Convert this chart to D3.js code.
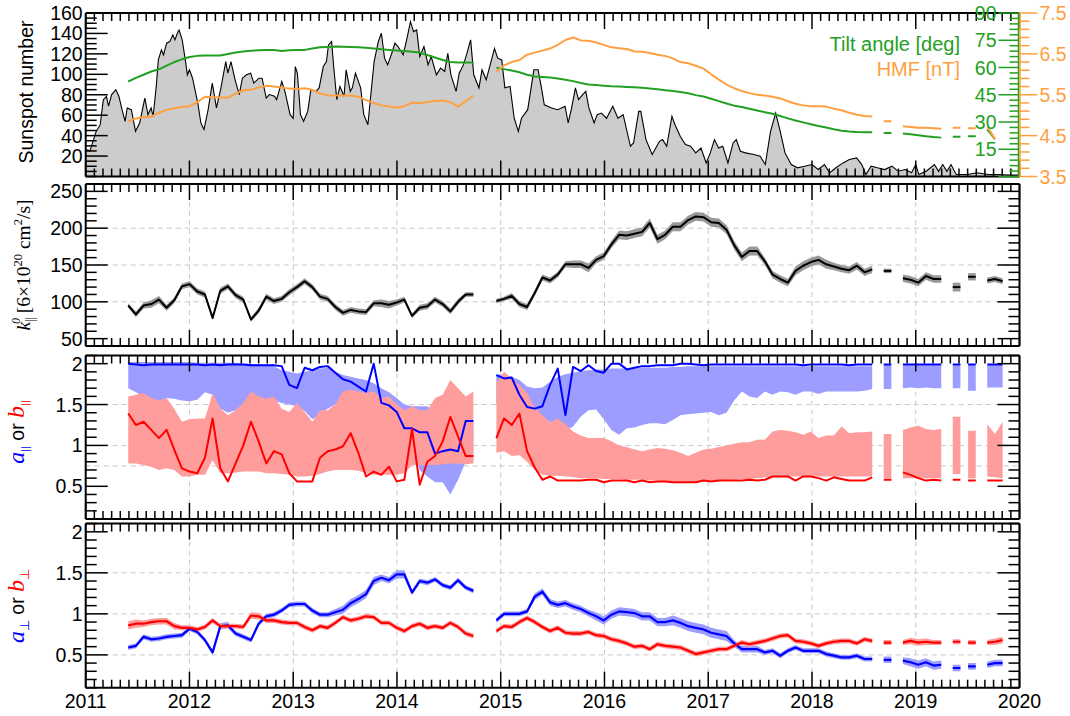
<!DOCTYPE html>
<html lang="en">
<head>
<meta charset="UTF-8">
<title>Sunspots, tilt angle, HMF and diffusion parameters</title>
<script src="https://cdn.jsdelivr.net/npm/d3@7"></script>
<style>
  html, body { margin: 0; padding: 0; background: #fff; }
  svg { display: block; font-family: "Liberation Sans", Arial, sans-serif; }
</style>
</head>
<body>
<svg id="chart" width="1070" height="716"></svg>
<script>
// ---------------- data ----------------

// smoothed sunspot number: [year, value]
var sunspot = [[2011.00,25],[2011.02,26],[2011.04,24.7],[2011.10,43.9],[2011.14,50.7],[2011.17,75.2],[2011.20,78.5],[2011.22,68.8],[2011.25,80.2],[2011.29,85],[2011.32,78.5],[2011.35,65.4],[2011.38,54],[2011.40,67.1],[2011.44,65.4],[2011.48,44.2],[2011.52,52.4],[2011.57,76.8],[2011.60,60.5],[2011.63,67.1],[2011.65,58.9],[2011.68,88.1],[2011.70,114.1],[2011.73,124],[2011.75,119],[2011.78,130.5],[2011.81,132],[2011.84,138.6],[2011.86,133.7],[2011.89,141.8],[2011.90,143.4],[2011.93,133.7],[2011.96,114.1],[2011.98,99.5],[2012.00,104.4],[2012.03,96.2],[2012.08,71.9],[2012.11,52.4],[2012.14,45.9],[2012.18,65.4],[2012.22,91.4],[2012.26,67.1],[2012.30,85],[2012.35,112.5],[2012.37,101.1],[2012.40,112.5],[2012.44,94.6],[2012.48,80.2],[2012.51,96.2],[2012.55,99.5],[2012.59,101.1],[2012.62,91.4],[2012.67,96.2],[2012.70,96.2],[2012.74,76.8],[2012.77,80.2],[2012.82,78.5],[2012.84,75.2],[2012.89,93],[2012.92,83.3],[2012.97,60.5],[2013.00,57],[2013.02,107.6],[2013.04,101.1],[2013.07,60.5],[2013.10,54],[2013.14,63.7],[2013.17,85],[2013.22,83.3],[2013.25,86.7],[2013.29,107.6],[2013.32,112.5],[2013.34,128.8],[2013.37,132],[2013.39,107.6],[2013.42,75.2],[2013.45,88.1],[2013.49,78.5],[2013.51,104.4],[2013.55,83.3],[2013.57,86.7],[2013.60,101.1],[2013.65,86.7],[2013.68,60.5],[2013.72,50.7],[2013.75,81.9],[2013.78,112.5],[2013.82,132],[2013.85,140.2],[2013.88,115.8],[2013.91,109.2],[2013.95,120.6],[2013.98,130.5],[2014.01,127.2],[2014.06,119],[2014.10,136.9],[2014.13,151.5],[2014.16,141.8],[2014.19,143.4],[2014.22,117.4],[2014.26,127.2],[2014.30,109.2],[2014.33,117.4],[2014.38,99.5],[2014.42,106],[2014.46,102.8],[2014.49,120.6],[2014.52,99.5],[2014.57,83.3],[2014.60,101.1],[2014.64,109.2],[2014.67,119],[2014.71,133.7],[2014.74,99.5],[2014.79,86.7],[2014.82,104.4],[2014.86,94.6],[2014.89,106],[2014.94,125.4],[2014.97,115.8],[2015.01,114.1],[2015.04,86.7],[2015.09,88.1],[2015.13,57],[2015.17,44.2],[2015.20,57],[2015.26,65.4],[2015.32,104.4],[2015.36,104.4],[2015.39,88.1],[2015.42,70.2],[2015.49,67.1],[2015.55,65.4],[2015.62,68.8],[2015.65,52.4],[2015.68,65.4],[2015.72,86.7],[2015.75,75.2],[2015.79,80.2],[2015.82,83.3],[2015.85,67.1],[2015.90,52.4],[2015.93,60.5],[2015.97,62.1],[2016.02,57],[2016.08,68.8],[2016.13,57],[2016.18,60.5],[2016.25,29.6],[2016.28,32.8],[2016.33,63.7],[2016.35,63.7],[2016.40,36.1],[2016.46,21.5],[2016.53,34.4],[2016.56,36.1],[2016.60,29.6],[2016.65,58.9],[2016.68,50.7],[2016.73,39.4],[2016.78,31.2],[2016.83,29.6],[2016.88,23.1],[2016.93,27.9],[2016.98,13.3],[2017.02,23.1],[2017.06,36.1],[2017.10,27.9],[2017.14,29.6],[2017.19,13.3],[2017.24,32.8],[2017.27,36.1],[2017.31,24.7],[2017.36,23.1],[2017.44,21.5],[2017.50,19.8],[2017.55,11.7],[2017.60,43.9],[2017.65,62.1],[2017.69,45.9],[2017.74,23.1],[2017.80,11.7],[2017.86,8.5],[2017.93,10.1],[2018.00,11.7],[2018.06,6.8],[2018.12,11.7],[2018.17,3.6],[2018.23,8.5],[2018.30,13.3],[2018.36,16.6],[2018.43,18.2],[2018.48,11.7],[2018.52,1.9],[2018.57,10.1],[2018.63,8.5],[2018.70,6.8],[2018.77,10.1],[2018.83,5.2],[2018.90,6.8],[2018.96,3.6],[2019.00,11.7],[2019.03,1.9],[2019.10,5.2],[2019.18,11.7],[2019.22,5],[2019.26,11.7],[2019.30,5],[2019.34,11.7],[2019.39,1.9],[2019.50,1.9],[2019.59,3.6],[2019.70,1.9],[2019.79,1.9],[2019.90,1.3],[2020.00,1.3]];

// the other quantities are given per Bartels rotation (27 days), null = no data
var rotStart = 2011.41;
var rotStep = 27 / 365.25;

var tilt = [52.3,54.3,56,57.8,59,61,63,64.5,65.8,66.4,66.6,66.6,66.6,67.4,68.2,68.8,69.2,69.5,69.7,69.6,69.1,69.5,69.7,69.7,70.5,71.1,71.3,71.5,71.4,71.3,71.2,70.9,70.5,70.0,69.7,69.4,69.1,68.7,68.2,66.9,65.5,64.1,63.0,62.7,62.7,62.7,
  null,null,
  59.9,59.1,58.3,57.4,56,55,54.8,54.5,53.9,53.3,52.5,51.5,50.6,50.3,50.0,49.7,49.5,49.3,49.1,48.9,48.5,48.0,47.5,47.0,46.5,45.8,44.8,44.0,42.8,41.5,40.2,39.0,38.2,37.3,36.3,35.4,34.5,33.3,32.0,30.8,29.8,28.8,27.8,27.0,26.0,25.2,24.8,24.5,24.3,24.3,
  null,24.0,null,23.7,23.2,22.7,22.2,21.7,21.4,null,21.9,null,22.1,null,26,20.5,null];

var hmf = [4.85,4.92,4.95,4.97,5.06,5.13,5.17,5.20,5.22,5.32,5.45,5.44,5.43,5.43,5.52,5.61,5.62,5.68,5.72,5.70,5.68,5.65,5.64,5.66,5.62,5.53,5.49,5.48,5.48,5.48,5.45,5.37,5.30,5.24,5.21,5.19,5.22,5.31,5.29,5.32,5.35,5.36,5.32,5.21,5.34,5.48,
  null,null,
  6.06,6.22,6.30,6.35,6.48,6.53,6.58,6.63,6.72,6.84,6.90,6.83,6.82,6.78,6.72,6.66,6.64,6.62,6.56,6.55,6.52,6.48,6.45,6.39,6.30,6.27,6.21,6.14,6.00,5.87,5.75,5.66,5.59,5.54,5.50,5.48,5.45,5.41,5.34,5.28,5.24,5.22,5.22,5.21,5.16,5.12,5.06,5.01,4.98,4.97,
  null,4.85,null,4.73,4.71,4.69,4.69,4.68,4.67,null,4.69,null,4.68,null,4.72,4.42,null];

var kPar = [95,83,95,97,103,92,102,121,124,114,110,78,115,121,109,103,76,88,107,101,104,113,120,128,120,107,104,93,85,89,87,86,98,98,96,99,103,81,92,94,103,97,87,100,110,110,
  null,null,
  101,104,108,97,93,112,133,129,137,151,151,151,146,157,162,178,191,190,192.5,195,207,185,191,202,202,211,216,215,208,207,198,177,161,169,169,155,137,131,126,142,149,154,157,151,148,145,143,149,140,144,
  null,142,null,132,130,126,135,131,131,null,120,null,134,null,129,131,128];
var kParErr = [3,4,4,5,5,4,4,4,4,4,4,3,4,4,4,4,3,4,4,4,4,4,4,4,4,4,4,4,4,4,4,4,4,5,5,4,4,3,4,4,4,4,4,4,3,3,
  null,null,
  3,3,4,4,4,4,4,4,4,4,5,5,6,5,5,5,6,6,6,6,6,6,6,6,6,6,6,6,6,6,6,6,6,6,6,5,5,5,5,6,6,6,6,6,5,5,5,5,5,5,
  null,3,null,5,5,5,5,5,5,null,6,null,5,null,4,4,4];

var aPar = [2.0,1.99,1.98,1.99,1.99,1.99,1.99,1.99,1.99,1.99,1.98,1.99,1.98,1.99,1.99,1.99,1.98,1.98,1.98,1.98,1.97,1.74,1.70,1.95,1.92,1.96,1.97,1.89,1.81,1.78,1.72,1.66,2.0,1.52,1.49,1.41,1.21,1.21,1.16,1.16,0.9,0.93,0.95,0.93,1.3,1.3,
  null,null,
  1.86,1.82,1.83,1.62,1.47,1.45,1.48,1.74,1.94,1.37,1.96,1.91,1.98,1.91,1.89,2.0,2.0,1.93,1.95,1.97,1.97,1.98,1.98,1.98,2.0,2.0,1.99,1.98,1.99,1.99,1.99,1.99,1.99,1.99,1.99,1.99,1.99,1.99,1.99,1.99,1.98,1.99,1.99,1.99,1.99,1.99,1.98,1.99,1.99,1.99,
  null,1.99,null,1.99,1.99,1.99,1.99,1.99,1.99,null,1.99,null,1.99,null,1.99,1.99,1.99];
var aParLo = [1.70,1.65,1.60,1.55,1.52,1.58,1.57,1.55,1.54,1.56,1.65,1.62,1.45,1.40,1.43,1.50,1.55,1.55,1.54,1.55,1.52,1.50,1.48,1.42,1.32,1.38,1.45,1.50,1.55,1.55,1.50,1.45,1.40,1.38,1.30,1.22,1.10,1.00,0.70,0.62,0.55,0.55,0.40,0.58,0.80,0.80,
  null,null,
  1.50,1.50,1.45,1.40,1.35,1.30,1.30,1.29,1.20,1.18,1.23,1.35,1.43,1.44,1.32,1.19,1.13,1.21,1.22,1.25,1.27,1.27,1.26,1.31,1.37,1.38,1.39,1.40,1.41,1.37,1.40,1.55,1.66,1.60,1.58,1.66,1.62,1.66,1.65,1.62,1.66,1.66,1.63,1.66,1.66,1.66,1.66,1.66,1.67,1.69,
  null,1.69,null,1.70,1.71,1.70,1.71,1.70,1.70,null,1.70,null,1.67,null,1.71,1.71,1.71];
var aParHi = [2.02,2.02,2.02,2.02,2.02,2.02,2.02,2.02,2.02,2.01,2.01,2.01,2.01,2.01,2.01,2.0,2.0,1.99,1.98,1.97,1.92,1.90,1.88,1.90,1.92,1.94,1.95,1.90,1.86,1.84,1.82,1.80,1.76,1.70,1.65,1.58,1.50,1.48,1.48,1.48,1.40,1.35,1.25,1.10,1.25,1.30,
  null,null,
  1.87,1.86,1.84,1.80,1.72,1.70,1.71,1.78,1.84,1.87,1.89,1.91,1.92,1.93,1.93,1.94,1.94,1.94,1.94,1.95,1.95,1.95,1.95,1.96,1.96,1.97,1.97,1.97,1.97,1.97,1.97,1.97,1.97,1.97,1.97,1.97,1.97,1.97,1.97,1.97,1.97,1.97,1.97,1.97,1.97,1.97,1.97,1.97,1.97,1.97,
  null,1.98,null,1.98,1.98,1.98,1.98,1.98,1.98,null,1.98,null,1.98,null,1.98,1.98,1.98];

var bPar = [1.39,1.25,1.29,1.19,1.09,1.19,0.95,0.72,0.68,0.66,0.85,1.33,0.72,0.56,0.78,1.0,1.29,1.05,0.78,0.93,0.89,0.66,0.56,0.56,0.56,0.85,0.93,0.95,0.99,1.15,0.91,0.62,0.68,0.64,0.74,0.56,0.58,1.2,0.52,0.8,0.87,1.05,1.35,1.11,0.87,0.87,
  null,null,
  1.09,1.33,1.25,1.39,0.93,0.73,0.58,0.62,0.57,0.57,0.57,0.57,0.58,0.58,0.55,0.57,0.57,0.57,0.55,0.57,0.55,0.56,0.56,0.55,0.55,0.55,0.55,0.57,0.56,0.57,0.57,0.57,0.57,0.58,0.57,0.58,0.62,0.62,0.62,0.57,0.62,0.62,0.60,0.57,0.61,0.59,0.57,0.57,0.57,0.61,
  null,0.58,null,0.67,0.64,0.60,0.57,0.58,0.57,null,0.58,null,0.57,null,0.57,0.57,0.57];
var bParLo = [0.78,0.78,0.76,0.74,0.70,0.72,0.70,0.62,0.62,0.64,0.64,0.82,0.66,0.66,0.67,0.68,0.68,0.68,0.66,0.66,0.65,0.64,0.62,0.62,0.63,0.65,0.68,0.70,0.70,0.70,0.69,0.66,0.64,0.64,0.64,0.64,0.66,0.76,0.76,0.76,0.76,0.77,0.78,0.78,0.77,0.78,
  null,null,
  0.91,0.93,0.87,0.88,0.80,0.70,0.64,0.63,0.63,0.62,0.61,0.60,0.60,0.60,0.59,0.59,0.59,0.58,0.58,0.58,0.57,0.57,0.56,0.56,0.56,0.56,0.56,0.56,0.57,0.57,0.58,0.58,0.59,0.59,0.60,0.61,0.62,0.62,0.62,0.62,0.62,0.62,0.62,0.62,0.62,0.62,0.62,0.62,0.62,0.62,
  null,0.60,null,0.60,0.60,0.60,0.60,0.60,0.60,null,0.65,null,0.60,null,0.62,0.61,0.60];
var bParHi = [1.60,1.62,1.64,1.58,1.55,1.58,1.45,1.29,1.32,1.33,1.33,1.64,1.45,1.37,1.43,1.52,1.66,1.60,1.57,1.60,1.45,1.41,1.52,1.41,1.29,1.43,1.43,1.50,1.66,1.68,1.66,1.64,1.66,1.58,1.60,1.50,1.43,1.48,1.43,1.43,1.58,1.62,1.80,1.70,1.60,1.66,
  null,null,
  1.76,1.90,1.82,1.74,1.64,1.46,1.37,1.28,1.33,1.26,1.17,1.12,1.09,1.09,1.09,1.05,1.0,0.98,0.95,0.93,0.95,0.97,0.96,0.94,0.91,0.87,0.91,0.95,0.96,0.98,1.0,1.02,1.04,1.04,1.07,1.07,1.17,1.19,1.18,1.16,1.13,1.17,1.09,1.12,1.12,1.23,1.15,1.16,1.16,1.17,
  null,1.14,null,1.19,1.22,1.24,1.20,1.19,1.20,null,1.35,null,1.18,null,1.26,1.14,1.29];

var aPerp = [0.59,0.61,0.72,0.69,0.70,0.72,0.73,0.74,0.82,0.78,0.68,0.53,0.85,0.86,0.76,0.72,0.68,0.88,0.97,0.99,1.04,1.11,1.12,1.12,1.04,0.99,0.99,1.02,1.05,1.13,1.18,1.24,1.40,1.44,1.41,1.48,1.48,1.26,1.40,1.38,1.42,1.35,1.32,1.41,1.32,1.28,
  null,null,
  0.92,1.0,1.0,1.0,1.03,1.21,1.27,1.14,1.11,1.13,1.09,1.06,1.01,0.97,0.92,0.99,1.03,1.02,1.01,0.97,0.97,0.90,0.90,0.92,0.89,0.85,0.83,0.81,0.77,0.75,0.73,0.64,0.57,0.57,0.57,0.53,0.55,0.49,0.55,0.59,0.55,0.55,0.55,0.51,0.49,0.47,0.47,0.49,0.45,0.45,
  null,0.44,null,0.43,0.41,0.38,0.41,0.37,0.38,null,0.34,null,0.36,null,0.38,0.40,0.40];
var aPerpErr = [0.03,0.03,0.03,0.03,0.03,0.03,0.03,0.03,0.03,0.03,0.03,0.03,0.04,0.04,0.03,0.03,0.03,0.03,0.03,0.03,0.03,0.03,0.03,0.03,0.03,0.03,0.03,0.04,0.05,0.05,0.05,0.05,0.05,0.04,0.04,0.05,0.05,0.03,0.03,0.03,0.03,0.03,0.03,0.03,0.03,0.03,
  null,null,
  0.03,0.03,0.03,0.03,0.03,0.04,0.04,0.04,0.04,0.04,0.04,0.04,0.04,0.05,0.05,0.05,0.05,0.05,0.05,0.05,0.05,0.05,0.05,0.06,0.06,0.06,0.06,0.06,0.06,0.06,0.06,0.04,0.04,0.04,0.04,0.03,0.03,0.03,0.03,0.03,0.03,0.03,0.03,0.03,0.03,0.03,0.03,0.03,0.03,0.03,
  null,0.04,null,0.04,0.05,0.05,0.05,0.05,0.05,null,0.04,null,0.04,null,0.04,0.04,0.04];

var bPerp = [0.86,0.88,0.88,0.90,0.91,0.91,0.85,0.83,0.83,0.81,0.84,0.92,0.85,0.85,0.85,0.84,0.98,0.97,0.92,0.92,0.90,0.89,0.89,0.84,0.80,0.85,0.83,0.89,0.96,0.92,0.94,0.97,0.96,0.89,0.89,0.83,0.79,0.85,0.88,0.83,0.85,0.83,0.89,0.84,0.76,0.73,
  null,null,
  0.79,0.85,0.84,0.90,0.95,0.90,0.84,0.79,0.83,0.77,0.76,0.76,0.78,0.74,0.73,0.69,0.67,0.64,0.60,0.61,0.57,0.63,0.61,0.60,0.59,0.55,0.51,0.53,0.55,0.57,0.57,0.61,0.65,0.63,0.65,0.67,0.70,0.73,0.74,0.67,0.66,0.64,0.61,0.64,0.66,0.67,0.67,0.64,0.69,0.67,
  null,0.65,null,0.65,0.67,0.65,0.66,0.65,0.65,null,0.66,null,0.65,null,0.65,0.66,0.68];
var bPerpErr = [0.05,0.05,0.04,0.04,0.04,0.04,0.04,0.03,0.03,0.03,0.03,0.03,0.03,0.03,0.03,0.03,0.04,0.04,0.03,0.03,0.03,0.03,0.03,0.03,0.03,0.03,0.03,0.03,0.03,0.03,0.03,0.03,0.03,0.03,0.03,0.03,0.03,0.03,0.03,0.03,0.03,0.03,0.03,0.03,0.03,0.03,
  null,null,
  0.03,0.03,0.03,0.03,0.03,0.03,0.03,0.03,0.03,0.03,0.03,0.03,0.03,0.03,0.03,0.03,0.03,0.03,0.03,0.03,0.03,0.03,0.03,0.03,0.03,0.03,0.03,0.03,0.03,0.03,0.03,0.03,0.03,0.03,0.03,0.03,0.03,0.03,0.03,0.03,0.03,0.03,0.03,0.03,0.03,0.03,0.03,0.03,0.03,0.03,
  null,0.03,null,0.03,0.04,0.04,0.04,0.03,0.03,null,0.03,null,0.03,null,0.03,0.04,0.04];

// axis ticks
var years = d3.range(2011, 2021);
var sunTicks = [20, 40, 60, 80, 100, 120, 140, 160];
var tiltTicks = [15, 30, 45, 60, 75, 90];
var hmfTicks = [3.5, 4.5, 5.5, 6.5, 7.5];
var kTicks = [50, 100, 150, 200, 250];
var abTicks = [0.5, 1, 1.5, 2];
var kGrid = [100, 150, 200];
var parGrid = [0.75, 1, 1.5];
var perpGrid = [0.5, 1, 1.5];

// ---------------- layout ----------------
var SERIF = '"Liberation Serif", "DejaVu Serif", serif';
var GREEN = "#22a022", ORANGE = "#ffa040";
var BLUE = "#0000ff", RED = "#ff0000", BLUE_BAND = "#9d9dff", RED_BAND = "#ff9d9d";
var TICK_FONT = 19.5;

var svg = d3.select("#chart");
var x = d3.scaleLinear().domain([2011, 2020]).range([85.7, 1019.5]);
var L = x.range()[0], R = x.range()[1];

var boxes = [[13, 176.5], [184, 346], [355.5, 519], [523.6, 687.7]];

var ySun = d3.scaleLinear().domain([0, 160]).range([boxes[0][1], boxes[0][0]]);
var yTilt = d3.scaleLinear().domain([0, 90]).range([boxes[0][1], boxes[0][0]]);
var yHmf = d3.scaleLinear().domain([3.5, 7.5]).range([boxes[0][1], boxes[0][0]]);
var yK = d3.scaleLinear().domain([40, 260]).range([boxes[1][1], boxes[1][0]]);
var yPar = d3.scaleLinear().domain([0.1, 2.1]).range([boxes[2][1], boxes[2][0]]);
var yPerp = d3.scaleLinear().domain([0.1, 2.1]).range([boxes[3][1], boxes[3][0]]);

// clip paths
var defs = svg.append("defs");
boxes.forEach(function(b, k) {
  defs.append("clipPath").attr("id", "clip" + k)
    .append("rect").attr("x", L).attr("y", b[0]).attr("width", R - L).attr("height", b[1] - b[0]);
});

function rotT(i) { return rotStart + i * rotStep; }

// consecutive non-null stretches; a lone value is drawn across its rotation
function runs(vals) {
  var out = [], cur = [];
  vals.forEach(function(v, i) {
    if (v == null) { if (cur.length) out.push(cur); cur = []; }
    else cur.push(i);
  });
  if (cur.length) out.push(cur);
  return out.map(function(run) {
    if (run.length === 1) {
      var i = run[0];
      return [{ t: rotT(i) - rotStep / 2, i: i }, { t: rotT(i) + rotStep / 2, i: i }];
    }
    return run.map(function(i) { return { t: rotT(i), i: i }; });
  });
}

function drawLine(g, y, vals, color, width) {
  var line = d3.line().x(function(d) { return x(d.t); }).y(function(d) { return y(vals[d.i]); });
  runs(vals).forEach(function(run) {
    g.append("path").attr("d", line(run)).attr("fill", "none")
      .attr("stroke", color).attr("stroke-width", width).attr("stroke-linejoin", "round");
  });
}

function drawBand(g, y, mid, lo, hi, color) {
  var area = d3.area().x(function(d) { return x(d.t); })
    .y0(function(d) { return y(lo(d.i)); })
    .y1(function(d) { return y(hi(d.i)); });
  runs(mid).forEach(function(run) {
    g.append("path").attr("d", area(run)).attr("fill", color).attr("stroke", "none");
  });
}

function grid(g, b, y, levels) {
  var gg = g.append("g").attr("stroke", "#c8c8c8").attr("stroke-width", 1).attr("stroke-dasharray", "5,4");
  years.slice(1, -1).forEach(function(yr) {
    gg.append("line").attr("x1", x(yr)).attr("x2", x(yr)).attr("y1", b[0]).attr("y2", b[1]);
  });
  levels.forEach(function(v) {
    gg.append("line").attr("x1", L).attr("x2", R).attr("y1", y(v)).attr("y2", y(v));
  });
}

function frame(b, y, majors, minorStep, rightTicks) {
  var g = svg.append("g").attr("stroke", "#000").attr("stroke-width", 1.5);
  // x ticks, top and bottom, pointing in
  for (var m = 0; m <= 108; m++) {
    var t = 2011 + m / 12, major = (m % 12 === 0), len = major ? 16 : 8;
    g.append("line").attr("x1", x(t)).attr("x2", x(t)).attr("y1", b[0]).attr("y2", b[0] + len);
    g.append("line").attr("x1", x(t)).attr("x2", x(t)).attr("y1", b[1]).attr("y2", b[1] - len);
  }
  // y ticks
  var d = y.domain();
  var minors = d3.range(Math.ceil(d[0] / minorStep - 1e-6), Math.floor(d[1] / minorStep + 1e-6) + 1)
    .map(function(k) { return +(k * minorStep).toFixed(4); });
  minors.forEach(function(v) {
    var major = majors.some(function(mv) { return Math.abs(mv - v) < 1e-6; });
    var len = major ? 22 : 11;
    g.append("line").attr("x1", L).attr("x2", L + len).attr("y1", y(v)).attr("y2", y(v));
    if (rightTicks) g.append("line").attr("x1", R).attr("x2", R - len).attr("y1", y(v)).attr("y2", y(v));
  });
  // labels
  svg.append("g").selectAll("text").data(majors).join("text")
    .attr("x", L - 3).attr("y", function(v) { return y(v); }).attr("dy", "0.36em")
    .attr("text-anchor", "end").attr("font-size", TICK_FONT).attr("fill", "#000")
    .text(function(v) { return String(v); });
  // spines
  var s = svg.append("g").attr("stroke", "#000").attr("stroke-width", 2).attr("fill", "none");
  s.append("line").attr("x1", L).attr("x2", R).attr("y1", b[0]).attr("y2", b[0]);
  s.append("line").attr("x1", L).attr("x2", R).attr("y1", b[1]).attr("y2", b[1]);
  s.append("line").attr("x1", L).attr("x2", L).attr("y1", b[0]).attr("y2", b[1]);
  if (rightTicks) s.append("line").attr("x1", R).attr("x2", R).attr("y1", b[0]).attr("y2", b[1]);
}

// ---------------- panel 1: sunspots, tilt, HMF ----------------
var g1 = svg.append("g").attr("clip-path", "url(#clip0)");
g1.append("path").datum(sunspot)
  .attr("d", d3.area().x(function(d) { return x(d[0]); }).y0(ySun(0)).y1(function(d) { return ySun(d[1]); }))
  .attr("fill", "#cccccc");
g1.append("path").datum(sunspot)
  .attr("d", d3.line().x(function(d) { return x(d[0]); }).y(function(d) { return ySun(d[1]); }))
  .attr("fill", "none").attr("stroke", "#000").attr("stroke-width", 1.1);
drawLine(g1, yTilt, tilt, GREEN, 2);
drawLine(g1, yHmf, hmf, ORANGE, 2);
frame(boxes[0], ySun, sunTicks, 5, false);

// right-hand twin axes
var ga = svg.append("g");
d3.range(0, 91, 3).forEach(function(v) {
  var len = (v % 15 === 0) ? 21 : 10;
  ga.append("line").attr("x1", R - len).attr("x2", R).attr("y1", yTilt(v)).attr("y2", yTilt(v))
    .attr("stroke", GREEN).attr("stroke-width", 1.5);
});
d3.range(0, 21).forEach(function(k) {
  var v = 3.5 + k * 0.2, len = (k % 5 === 0) ? 18 : 10;
  ga.append("line").attr("x1", R).attr("x2", R + len).attr("y1", yHmf(v)).attr("y2", yHmf(v))
    .attr("stroke", ORANGE).attr("stroke-width", 1.5);
});
ga.append("line").attr("x1", R - 1).attr("x2", R - 1).attr("y1", boxes[0][0]).attr("y2", boxes[0][1])
  .attr("stroke", GREEN).attr("stroke-width", 1.5);
ga.append("line").attr("x1", R + 0.5).attr("x2", R + 0.5).attr("y1", boxes[0][0]).attr("y2", boxes[0][1])
  .attr("stroke", ORANGE).attr("stroke-width", 1.5);
ga.selectAll("text.tilt").data(tiltTicks).join("text").attr("class", "tilt")
  .attr("x", R - 23).attr("y", function(v) { return yTilt(v); }).attr("dy", "0.36em")
  .attr("text-anchor", "end").attr("font-size", TICK_FONT).attr("fill", GREEN).text(function(v) { return v; });
ga.selectAll("text.hmf").data(hmfTicks).join("text").attr("class", "hmf")
  .attr("x", R + 20).attr("y", function(v) { return yHmf(v); }).attr("dy", "0.36em")
  .attr("text-anchor", "start").attr("font-size", TICK_FONT).attr("fill", ORANGE).text(function(v) { return v; });

svg.append("text").attr("x", 960).attr("y", 51).attr("text-anchor", "end")
  .attr("font-size", 20).attr("fill", GREEN).text("Tilt angle [deg]");
svg.append("text").attr("x", 960).attr("y", 76).attr("text-anchor", "end")
  .attr("font-size", 20).attr("fill", ORANGE).text("HMF [nT]");

// ---------------- panel 2: k_par ----------------
var g2 = svg.append("g").attr("clip-path", "url(#clip1)");
grid(g2, boxes[1], yK, kGrid);
drawBand(g2, yK, kPar, function(i) { return kPar[i] - kParErr[i]; }, function(i) { return kPar[i] + kParErr[i]; }, "#999999");
drawLine(g2, yK, kPar, "#000", 2);
frame(boxes[1], yK, kTicks, 10, true);

// ---------------- panel 3: a_par, b_par ----------------
var g3 = svg.append("g").attr("clip-path", "url(#clip2)");
grid(g3, boxes[2], yPar, parGrid);
drawBand(g3, yPar, aPar, function(i) { return aParLo[i]; }, function(i) { return aParHi[i]; }, BLUE_BAND);
drawBand(g3, yPar, bPar, function(i) { return bParLo[i]; }, function(i) { return bParHi[i]; }, RED_BAND);
drawLine(g3, yPar, aPar, BLUE, 2);
drawLine(g3, yPar, bPar, RED, 2);
frame(boxes[2], yPar, abTicks, 0.1, true);

// ---------------- panel 4: a_perp, b_perp ----------------
var g4 = svg.append("g").attr("clip-path", "url(#clip3)");
grid(g4, boxes[3], yPerp, perpGrid);
drawBand(g4, yPerp, aPerp, function(i) { return aPerp[i] - aPerpErr[i]; }, function(i) { return aPerp[i] + aPerpErr[i]; }, BLUE_BAND);
drawBand(g4, yPerp, bPerp, function(i) { return bPerp[i] - bPerpErr[i]; }, function(i) { return bPerp[i] + bPerpErr[i]; }, RED_BAND);
drawLine(g4, yPerp, aPerp, BLUE, 2.2);
drawLine(g4, yPerp, bPerp, RED, 2.2);
frame(boxes[3], yPerp, abTicks, 0.1, true);

// year labels
svg.append("g").selectAll("text").data(years).join("text")
  .attr("x", function(d) { return x(d); }).attr("y", 708)
  .attr("text-anchor", "middle").attr("font-size", TICK_FONT).text(function(d) { return d; });

// ---------------- y-axis titles ----------------
function vlabel(cx, cy) {
  return svg.append("text").attr("transform", "translate(" + cx + "," + cy + ") rotate(-90)")
    .attr("text-anchor", "middle").attr("font-size", 19.5);
}
vlabel(33, 92).text("Sunspot number");

var kl = vlabel(30, 265).attr("font-family", SERIF).attr("font-size", 19.5);
kl.append("tspan").attr("font-style", "italic").text("k");
kl.append("tspan").attr("font-size", 12).attr("dy", 4).text("||");
kl.append("tspan").attr("font-size", 12).attr("font-style", "italic").attr("dx", -7).attr("dy", -14).text("0");
kl.append("tspan").attr("dy", 10).text(" [6\u00d710");
kl.append("tspan").attr("font-size", 12.5).attr("dy", -8).text("20");
kl.append("tspan").attr("dy", 8).text(" cm");
kl.append("tspan").attr("font-size", 12.5).attr("dy", -8).text("2");
kl.append("tspan").attr("dy", 8).text("/s]");

function abLabel(cy, sym, size) {
  var t = vlabel(24, cy);
  t.append("tspan").attr("font-family", SERIF).attr("font-style", "italic").attr("font-size", 24).attr("fill", BLUE).text("a");
  t.append("tspan").attr("font-size", size).attr("dy", 5).attr("fill", BLUE).text(sym);
  t.append("tspan").attr("dy", -5).attr("fill", "#000").text(" or ");
  t.append("tspan").attr("font-family", SERIF).attr("font-style", "italic").attr("font-size", 24).attr("fill", RED).text("b");
  t.append("tspan").attr("font-size", size).attr("dy", 5).attr("fill", RED).text(sym);
}
abLabel(432, "||", 11);
abLabel(606, "\u22a5", 13);
</script>
</body>
</html>
